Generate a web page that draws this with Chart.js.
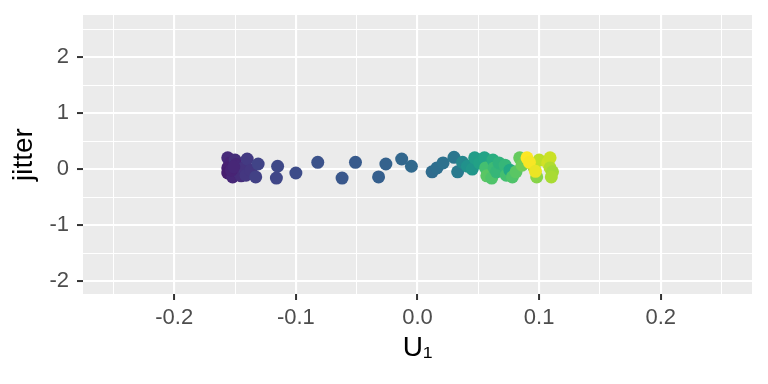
<!DOCTYPE html>
<html>
<head>
<meta charset="utf-8">
<script src="https://cdn.jsdelivr.net/npm/chart.js@4"></script>
<style>
  html, body { margin: 0; padding: 0; background: #fff; }
  #wrap { width: 768px; height: 384px; }
</style>
</head>
<body>
<div id="wrap"><canvas id="chart"></canvas></div>
<script>
// values
const u1 = [
  -0.156, -0.154, -0.156, -0.156, -0.152, -0.150, -0.149, -0.148, -0.147, -0.145,
  -0.143, -0.141, -0.140, -0.137, -0.133, -0.131, -0.153, -0.151, -0.115, -0.116,
  -0.100, -0.082, -0.062, -0.051, -0.032, -0.026, -0.013, -0.005, 0.012, 0.016,
  0.021, 0.030, 0.033, 0.037, 0.041, 0.045, 0.047, 0.051, 0.055, 0.056,
  0.057, 0.061, 0.062, 0.063, 0.065, 0.067, 0.072, 0.073, 0.076, 0.078,
  0.081, 0.084, 0.086, 0.096, 0.098, 0.100, 0.107, 0.109, 0.109, 0.111,
  0.110, 0.090, 0.092, 0.097
];
const jitter = [
  0.20, 0.11, 0.02, -0.07, -0.14, 0.16, 0.08, 0.03, -0.05, -0.12,
  0.02, -0.11, 0.18, -0.02, -0.14, 0.09, -0.02, 0.04, 0.05, -0.16,
  -0.07, 0.12, -0.16, 0.12, -0.14, 0.09, 0.18, 0.05, -0.05, 0.02,
  0.11, 0.21, -0.05, 0.12, 0.05, 0.00, 0.20, 0.11, 0.20, 0.02,
  -0.12, -0.16, 0.16, 0.02, -0.05, 0.11, 0.07, -0.11, -0.02, -0.14,
  -0.05, 0.20, 0.07, 0.02, -0.14, 0.16, 0.11, 0.20, 0.02, -0.05,
  -0.14, 0.20, 0.12, -0.04
];
const shade = [
  0.12, 0.10, 0.09, 0.08, 0.11, 0.13, 0.11, 0.12, 0.14, 0.13,
  0.15, 0.16, 0.17, 0.16, 0.19, 0.20, 0.10, 0.11, 0.22, 0.21,
  0.23, 0.25, 0.27, 0.28, 0.30, 0.31, 0.33, 0.34, 0.35, 0.36,
  0.37, 0.39, 0.41, 0.46, 0.50, 0.52, 0.55, 0.57, 0.58, 0.70,
  0.74, 0.72, 0.62, 0.68, 0.66, 0.64, 0.66, 0.70, 0.60, 0.72,
  0.74, 0.76, 0.78, 0.85, 0.82, 0.90, 0.93, 0.92, 0.88, 0.86,
  0.87, 1.00, 0.99, 0.97
];
const xMajor = [-0.2, -0.1, 0, 0.1, 0.2];
const xGrid = [-0.25, -0.2, -0.15, -0.1, -0.05, 0, 0.05, 0.1, 0.15, 0.2, 0.25];
const yMajor = [-2, -1, 0, 1, 2];
const yGrid = [-2, -1.5, -1, -0.5, 0, 0.5, 1, 1.5, 2, 2.5];

// viridis palette
const viridis = ["#440154", "#482475", "#414487", "#355f8d", "#2a788e", "#21918c",
  "#22a884", "#44bf70", "#7ad151", "#bddf26", "#fde725"];
const hex = (h) => [1, 3, 5].map((i) => parseInt(h.substr(i, 2), 16));
const colorAt = (t) => {
  const p = Math.min(Math.max(t, 0), 1) * (viridis.length - 1);
  const i = Math.min(Math.floor(p), viridis.length - 2);
  const f = p - i;
  const a = hex(viridis[i]), b = hex(viridis[i + 1]);
  const c = a.map((v, k) => Math.round(v + (b[k] - v) * f));
  return `rgb(${c[0]}, ${c[1]}, ${c[2]})`;
};

const isMajor = (list, v) => list.some((m) => Math.abs(m - v) < 1e-9);

const panelBg = {
  id: "panelBg",
  beforeDraw(chart) {
    const { ctx, chartArea } = chart;
    ctx.save();
    ctx.fillStyle = "#ebebeb";
    ctx.fillRect(chartArea.left, chartArea.top, chartArea.width, chartArea.height);
    ctx.restore();
  },
};

const font = "'Liberation Sans', Arial, 'DejaVu Sans', sans-serif";

new Chart(document.querySelector("#chart"), {
  type: "scatter",
  data: {
    datasets: [
      {
        data: u1.map((x, i) => ({ x: x, y: jitter[i] })),
        backgroundColor: shade.map(colorAt),
        borderWidth: 0,
        pointRadius: 6.5,
        pointHoverRadius: 6.5,
      },
    ],
  },
  options: {
    responsive: true,
    maintainAspectRatio: false,
    animation: false,
    events: [],
    layout: { padding: { left: 0, right: 16, top: 15, bottom: 0 } },
    plugins: { legend: { display: false }, tooltip: { enabled: false } },
    scales: {
      x: {
        type: "linear",
        min: -0.275,
        max: 0.275,
        afterBuildTicks: (scale) => {
          scale.ticks = xGrid.map((v) => ({ value: v }));
        },
        afterFit: (scale) => {
          scale.height = 90;
          scale.paddingLeft = 0;
          scale.paddingRight = 0;
        },
        border: { display: false },
        grid: {
          color: "#ffffff",
          lineWidth: (c) => (isMajor(xMajor, c.tick.value) ? 2.1 : 1),
          tickColor: (c) => (isMajor(xMajor, c.tick.value) ? "#333333" : "rgba(0,0,0,0)"),
          tickWidth: 2,
          tickLength: 6,
        },
        ticks: {
          autoSkip: false,
          maxRotation: 0,
          padding: 5,
          color: "#4d4d4d",
          font: { family: font, size: 22 },
          callback: (v) => (isMajor(xMajor, v) ? v.toFixed(1) : ""),
        },
        title: {
          display: true,
          text: "U₁",
          color: "#000000",
          font: { family: font, size: 28 },
          padding: { top: 0, bottom: 19 },
        },
      },
      y: {
        type: "linear",
        min: -2.23,
        max: 2.75,
        afterBuildTicks: (scale) => {
          scale.ticks = yGrid.map((v) => ({ value: v }));
        },
        afterFit: (scale) => {
          scale.width = 83;
          scale.paddingTop = 0;
          scale.paddingBottom = 0;
        },
        border: { display: false },
        grid: {
          color: "#ffffff",
          lineWidth: (c) => (isMajor(yMajor, c.tick.value) ? 2.1 : 1),
          tickColor: (c) => (isMajor(yMajor, c.tick.value) ? "#333333" : "rgba(0,0,0,0)"),
          tickWidth: 2,
          tickLength: 6,
        },
        ticks: {
          autoSkip: false,
          padding: 8,
          color: "#4d4d4d",
          font: { family: font, size: 22 },
          callback: (v) => (isMajor(yMajor, v) ? String(v) : ""),
        },
        title: {
          display: true,
          text: "jitter",
          color: "#000000",
          font: { family: font, size: 28 },
          padding: { top: 7, bottom: 0 },
        },
      },
    },
  },
  plugins: [panelBg],
});
</script>
</body>
</html>
